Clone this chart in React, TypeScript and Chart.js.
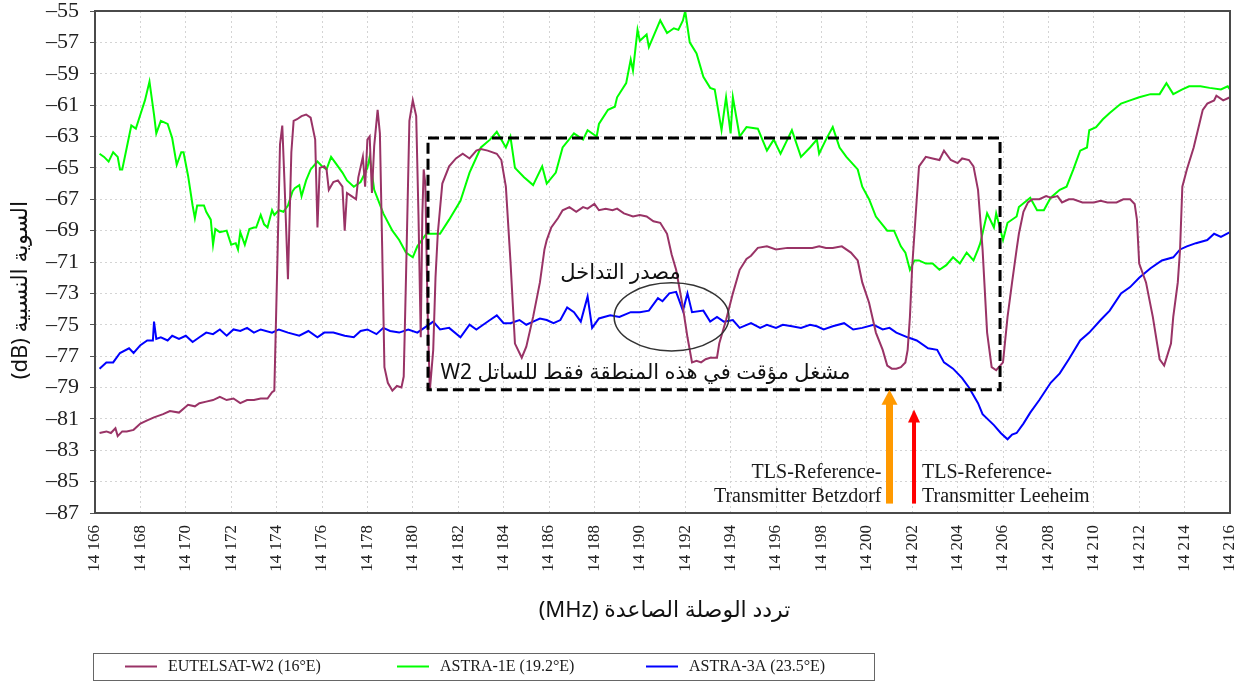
import React, { useEffect, useRef } from "react";
import { Chart, registerables } from "chart.js";

Chart.register(...registerables);

// ---------- DATA ----------
const seriesLabels = ["EUTELSAT-W2 (16°E)", "ASTRA-1E (19.2°E)", "ASTRA-3A (23.5°E)"];
const yTickValues = [-55, -57, -59, -61, -63, -65, -67, -69, -71, -73, -75, -77, -79, -81, -83, -85, -87];

const w2Freq = [
  14166.2, 14166.5, 14166.7, 14166.9, 14167.0, 14167.2, 14167.4, 14167.7, 14168.0, 14168.3,
  14168.6, 14169.0, 14169.3, 14169.7, 14170.1, 14170.4, 14170.6, 14170.9, 14171.2, 14171.5,
  14171.8, 14172.1, 14172.4, 14172.7, 14173.0, 14173.3, 14173.6, 14173.8, 14173.9, 14174.05,
  14174.15, 14174.25, 14174.35, 14174.5, 14174.65, 14174.75, 14174.9, 14175.1, 14175.3, 14175.5,
  14175.6, 14175.7, 14175.8, 14175.9, 14176.1, 14176.2, 14176.3, 14176.5, 14176.7, 14176.9,
  14177.0, 14177.1, 14177.3, 14177.5, 14177.6, 14177.8, 14177.9, 14178.0, 14178.1, 14178.2,
  14178.3, 14178.45, 14178.55, 14178.65, 14178.75, 14178.9, 14179.1, 14179.3, 14179.5, 14179.6,
  14179.7, 14179.85, 14180.0, 14180.15, 14180.25, 14180.35, 14180.42, 14180.48, 14180.55, 14180.65,
  14180.75, 14180.9, 14181.0, 14181.1, 14181.3, 14181.6, 14181.9, 14182.2, 14182.5, 14182.8,
  14183.0, 14183.3, 14183.7, 14183.9, 14184.1, 14184.3, 14184.5, 14184.8, 14185.0, 14185.3,
  14185.6, 14185.8, 14185.9, 14186.1, 14186.4, 14186.6, 14186.9, 14187.2, 14187.5, 14187.7,
  14188.0, 14188.2, 14188.5, 14188.8, 14189.0, 14189.3, 14189.7, 14190.0, 14190.3, 14190.6,
  14190.9, 14191.2, 14191.4, 14191.6, 14191.9, 14192.1, 14192.3, 14192.5, 14192.7, 14192.9,
  14193.1, 14193.4, 14193.5, 14193.8, 14194.1, 14194.4, 14194.7, 14194.9, 14195.2, 14195.6,
  14196.0, 14196.5, 14197.1, 14197.6, 14197.9, 14198.2, 14198.5, 14198.9, 14199.3, 14199.6,
  14199.8, 14200.1, 14200.4, 14200.7, 14200.9, 14201.1, 14201.3, 14201.5, 14201.7, 14201.8,
  14201.9, 14202.0, 14202.2, 14202.3, 14202.6, 14202.9, 14203.2, 14203.4, 14203.7, 14204.0,
  14204.2, 14204.5, 14204.7, 14204.9, 14205.1, 14205.3, 14205.5, 14205.7, 14206.0, 14206.2,
  14206.4, 14206.6, 14206.7, 14206.9, 14207.1, 14207.3, 14207.6, 14207.9, 14208.1, 14208.4,
  14208.6, 14208.9, 14209.1, 14209.5, 14210.0, 14210.3, 14210.6, 14211.0, 14211.3, 14211.6,
  14211.8, 14211.9, 14212.0, 14212.3, 14212.6, 14212.9, 14213.1, 14213.4, 14213.5, 14213.7,
  14213.8, 14213.9, 14214.1, 14214.4, 14214.7, 14214.8, 14215.0, 14215.3, 14215.4, 14215.7,
  14216.0,
];
const w2Level = [
  -81.9, -81.8, -81.9, -81.6, -82.1, -81.8, -81.8, -81.7, -81.3, -81.1,
  -80.9, -80.7, -80.5, -80.6, -80.1, -80.2, -80.0, -79.9, -79.8, -79.6,
  -79.8, -79.7, -80.0, -79.8, -79.8, -79.7, -79.7, -79.3, -79.2, -70.0,
  -63.5, -62.3, -66.0, -72.1, -64.0, -62.0, -61.9, -61.7, -61.6, -61.8,
  -62.5, -63.2, -68.8, -65.0, -64.9, -65.1, -66.4, -65.9, -65.8, -66.2,
  -69.0, -66.6, -66.8, -67.0, -65.6, -64.3, -66.2, -63.2, -63.0, -66.6,
  -63.6, -61.3, -62.8, -70.0, -77.7, -78.7, -79.2, -78.9, -79.0, -78.3,
  -72.0, -62.0, -60.7, -61.7, -68.0, -75.8, -68.0, -65.1, -66.0, -74.0,
  -79.2, -76.6, -72.0, -69.2, -66.0, -64.9, -64.4, -64.1, -64.4, -63.9,
  -63.8, -63.9, -64.1, -64.5, -66.2, -70.9, -76.2, -77.1, -76.4, -74.5,
  -72.3, -70.2, -69.6, -68.8, -68.2, -67.7, -67.5, -67.8, -67.5, -67.6,
  -67.3, -67.7, -67.6, -67.7, -67.6, -67.9, -68.1, -68.0, -68.1, -68.4,
  -68.5, -69.2, -70.5, -71.5, -73.9, -75.8, -77.4, -77.3, -77.4, -77.2,
  -77.1, -77.1, -76.2, -74.7, -73.0, -71.5, -70.8, -70.6, -70.1, -70.0,
  -70.2, -70.1, -70.1, -70.1, -70.0, -70.1, -70.1, -70.0, -70.4, -70.9,
  -72.3, -73.6, -75.5, -76.6, -77.6, -77.8, -77.8, -77.7, -77.4, -76.6,
  -74.5, -71.3, -67.0, -64.9, -64.3, -64.4, -64.5, -63.9, -64.5, -64.7,
  -64.4, -64.5, -64.9, -66.4, -70.2, -75.5, -77.7, -77.9, -77.4, -74.5,
  -72.3, -70.2, -69.2, -67.8, -67.2, -67.0, -67.0, -66.8, -66.9, -66.8,
  -67.2, -67.0, -67.0, -67.2, -67.2, -67.1, -67.2, -67.2, -67.0, -67.0,
  -67.3, -68.3, -71.1, -72.3, -74.5, -77.2, -77.6, -76.2, -74.5, -72.3,
  -70.2, -66.2, -65.1, -63.7, -61.9, -61.3, -60.9, -60.7, -60.4, -60.7,
  -60.5,
];

const astra1eFreq = [
  14166.2, 14166.4, 14166.6, 14166.8, 14167.0, 14167.1, 14167.2, 14167.4, 14167.6, 14167.8,
  14168.0, 14168.2, 14168.4, 14168.6, 14168.7, 14168.9, 14169.2, 14169.4, 14169.6, 14169.8,
  14169.9, 14170.1, 14170.3, 14170.4, 14170.5, 14170.8, 14170.9, 14171.1, 14171.2, 14171.3,
  14171.5, 14171.8, 14172.0, 14172.2, 14172.3, 14172.4, 14172.6, 14172.8, 14173.0, 14173.1,
  14173.3, 14173.45, 14173.6, 14173.8, 14173.9, 14174.1, 14174.3, 14174.5, 14174.7, 14174.8,
  14175.0, 14175.1, 14175.3, 14175.5, 14175.8, 14176.0, 14176.2, 14176.4, 14176.6, 14176.9,
  14177.1, 14177.4, 14177.7, 14178.0, 14178.1, 14178.3, 14178.7, 14179.1, 14179.4, 14179.7,
  14180.0, 14180.2, 14180.6, 14181.2, 14181.6, 14182.1, 14182.5, 14183.0, 14183.4, 14183.7,
  14184.1, 14184.3, 14184.5, 14184.9, 14185.3, 14185.7, 14185.9, 14186.3, 14186.6, 14187.1,
  14187.5, 14187.7, 14188.1, 14188.2, 14188.6, 14188.9, 14189.0, 14189.4, 14189.6, 14189.7,
  14189.9, 14190.0, 14190.3, 14190.4, 14190.9, 14191.2, 14191.5, 14191.7, 14191.9, 14192.0,
  14192.2, 14192.5, 14192.8, 14193.1, 14193.3, 14193.6, 14193.8, 14194.0, 14194.1, 14194.4,
  14194.7, 14195.2, 14195.6, 14195.9, 14196.2, 14196.5, 14196.7, 14197.1, 14197.5, 14197.8,
  14197.9, 14198.2, 14198.5, 14198.8, 14199.1, 14199.6, 14199.8, 14200.1, 14200.4, 14200.9,
  14201.2, 14201.5, 14201.7, 14201.9, 14202.1, 14202.3, 14202.6, 14202.9, 14203.2, 14203.5,
  14203.8, 14204.1, 14204.4, 14204.7, 14204.9, 14205.0, 14205.3, 14205.6, 14205.7, 14206.0,
  14206.2, 14206.6, 14206.7, 14207.2, 14207.5, 14207.8, 14208.1, 14208.5, 14208.8, 14209.1,
  14209.4, 14209.7, 14209.8, 14210.1, 14210.4, 14210.7, 14211.2, 14211.6, 14212.0, 14212.5,
  14212.9, 14213.2, 14213.5, 14213.9, 14214.2, 14214.7, 14215.1, 14215.6, 14215.9, 14216.0,
];
const astra1eLevel = [
  -64.1, -64.3, -64.6, -64.0, -64.3, -65.1, -65.1, -63.7, -62.3, -62.5,
  -61.6, -60.7, -59.5, -61.6, -62.8, -62.0, -62.2, -63.1, -64.8, -64.0,
  -64.0, -65.5, -67.4, -68.2, -67.4, -67.4, -67.8, -68.3, -69.9, -68.9,
  -69.1, -69.0, -69.9, -69.8, -70.2, -69.1, -69.9, -68.9, -68.8, -68.8,
  -68.0, -68.6, -68.8, -67.7, -68.0, -67.7, -67.8, -67.4, -66.5, -66.3,
  -66.1, -66.8, -65.8, -65.1, -64.6, -64.9, -65.1, -64.3, -64.7, -65.3,
  -65.8, -66.2, -65.9, -65.0, -64.3, -66.4, -67.9, -69.0, -69.6, -70.4,
  -70.7, -70.0, -69.2, -69.2, -68.3, -67.1, -65.3, -63.7, -63.2, -62.7,
  -63.7, -63.0, -65.0, -65.6, -66.1, -64.9, -66.0, -65.3, -63.7, -62.8,
  -63.2, -62.6, -63.0, -62.2, -61.3, -61.1, -60.5, -59.6, -58.1, -58.8,
  -56.2, -56.9, -56.5, -57.3, -55.6, -56.4, -56.1, -56.2, -55.6, -55.0,
  -57.0, -57.7, -59.2, -59.9, -60.0, -62.6, -60.5, -62.8, -60.5, -63.0,
  -62.4, -62.5, -63.9, -63.2, -64.1, -63.2, -62.6, -64.3, -63.7, -63.2,
  -64.1, -63.2, -62.4, -63.7, -64.3, -65.1, -66.2, -67.0, -68.1, -69.0,
  -69.0, -70.0, -70.4, -71.5, -70.9, -70.9, -71.1, -71.1, -71.5, -71.2,
  -70.7, -71.1, -70.4, -70.9, -70.2, -69.8, -67.9, -68.8, -67.9, -69.6,
  -68.5, -68.1, -67.5, -66.9, -67.7, -67.7, -66.9, -66.4, -66.2, -65.1,
  -63.9, -63.7, -62.6, -62.4, -61.9, -61.5, -60.9, -60.7, -60.5, -60.3,
  -60.3, -59.6, -60.3, -60.0, -59.8, -59.8, -59.9, -60.0, -59.8, -60.0,
];

const astra3aFreq = [
  14166.2, 14166.5, 14166.8, 14167.1, 14167.5, 14167.7, 14168.0, 14168.3, 14168.55, 14168.6,
  14168.7, 14168.9, 14169.2, 14169.4, 14169.7, 14170.0, 14170.3, 14170.6, 14170.9, 14171.2,
  14171.5, 14171.8, 14172.1, 14172.4, 14172.7, 14173.0, 14173.3, 14173.8, 14174.1, 14174.5,
  14175.0, 14175.4, 14175.8, 14176.1, 14176.5, 14177.0, 14177.4, 14177.7, 14178.0, 14178.4,
  14178.7, 14179.0, 14179.4, 14179.8, 14180.2, 14180.6, 14180.9, 14181.2, 14181.6, 14182.1,
  14182.5, 14182.8, 14183.1, 14183.4, 14183.7, 14184.0, 14184.3, 14184.7, 14185.0, 14185.3,
  14185.6, 14185.9, 14186.2, 14186.5, 14186.8, 14187.1, 14187.4, 14187.7, 14187.9, 14188.2,
  14188.7, 14189.1, 14189.6, 14190.0, 14190.4, 14190.8, 14191.0, 14191.3, 14191.6, 14191.9,
  14192.1, 14192.3, 14192.8, 14193.1, 14193.4, 14193.7, 14194.1, 14194.4, 14194.9, 14195.3,
  14195.6, 14196.0, 14196.3, 14196.7, 14197.1, 14197.5, 14197.8, 14198.1, 14198.5, 14199.0,
  14199.4, 14199.8, 14200.3, 14200.7, 14201.0, 14201.3, 14201.8, 14202.2, 14202.7, 14203.1,
  14203.4, 14203.8, 14204.2, 14204.5, 14204.9, 14205.1, 14205.6, 14205.9, 14206.2, 14206.4,
  14206.6, 14206.9, 14207.2, 14207.6, 14208.1, 14208.5, 14208.9, 14209.4, 14209.8, 14210.3,
  14210.7, 14211.2, 14211.6, 14212.0, 14212.5, 14213.0, 14213.5, 14213.8, 14214.1, 14214.5,
  14215.0, 14215.3, 14215.6, 14216.0,
];
const astra3aLevel = [
  -77.8, -77.4, -77.4, -76.8, -76.5, -76.8, -76.3, -76.0, -76.0, -74.8,
  -75.9, -75.8, -76.0, -75.7, -75.9, -75.7, -76.1, -75.8, -75.5, -75.6,
  -75.3, -75.7, -75.3, -75.4, -75.2, -75.5, -75.3, -75.5, -75.3, -75.5,
  -75.7, -75.4, -75.8, -75.5, -75.5, -75.7, -75.8, -75.4, -75.3, -75.6,
  -75.2, -75.4, -75.5, -75.3, -75.5, -75.1, -74.8, -75.3, -75.2, -75.8,
  -75.0, -75.3, -75.0, -74.7, -74.4, -74.9, -74.9, -74.7, -75.0, -74.8,
  -74.6, -74.7, -74.9, -74.7, -73.9, -74.2, -74.8, -73.2, -75.2, -74.6,
  -74.4, -74.5, -74.2, -74.2, -74.1, -73.3, -73.5, -73.0, -72.9, -74.1,
  -73.0, -74.2, -74.1, -74.8, -74.5, -74.8, -74.7, -75.2, -74.9, -75.2,
  -75.0, -75.2, -75.0, -75.1, -75.2, -75.0, -75.1, -75.3, -75.1, -74.9,
  -75.3, -75.2, -75.0, -75.3, -75.2, -75.5, -75.8, -76.0, -76.5, -76.6,
  -77.4, -77.8, -78.4, -79.0, -80.0, -80.7, -81.4, -81.9, -82.3, -82.0,
  -81.9, -81.3, -80.6, -79.8, -78.7, -78.1, -77.2, -76.0, -75.5, -74.7,
  -74.1, -73.0, -72.6, -72.0, -71.4, -70.9, -70.7, -70.2, -70.0, -69.8,
  -69.6, -69.2, -69.4, -69.1,
];

// ---------- ANNOTATIONS (data coordinates) ----------
const boxFreq = [14180.67, 14205.87];
const boxLevel = [-63.1, -79.15];
const ellipseCenter = [14191.4, -74.5];
const ellipseRadius = [2.53, 2.17];
const interferenceLabel = "مصدر التداخل";
const interferencePos = [14189.15, -71.7];
const operatorLabel = "مشغل مؤقت في هذه المنطقة فقط للساتل W2";
const operatorPos = [14190.25, -78.1];
const betzdorfFreq = 14201.0;
const leeheimFreq = 14202.08;
const betzdorfTipLevel = -79.15;
const leeheimTipLevel = -80.4;
const arrowBaseLevel = -86.4;
const betzdorfLines = ["TLS-Reference-", "Transmitter Betzdorf"];
const leeheimLines = ["TLS-Reference-", "Transmitter Leeheim"];
const refTextLevels = [-84.75, -86.3];
const yTitle = "السوية النسبية (dB)";
const xTitle = "تردد الوصلة الصاعدة (MHz)";

const COLORS = ["#993366", "#00ff00", "#0000ff"];
const SERIF = "'Liberation Serif', 'Times New Roman', serif";
const ARABIC = "'Noto Sans', 'DejaVu Sans', sans-serif";

function pairs(xs: number[], ys: number[]) {
  return xs.map((x, i) => ({ x, y: ys[i] }));
}

const overlayPlugin = {
  id: "overlay",
  afterDatasetsDraw(chart: any) {
    const { ctx, scales } = chart;
    const xs = scales.x;
    const ys = scales.y;
    const px = (v: number) => xs.getPixelForValue(v);
    const py = (v: number) => ys.getPixelForValue(v);
    ctx.save();
    // dashed box
    ctx.strokeStyle = "#000";
    ctx.lineWidth = 3;
    ctx.setLineDash([11, 5]);
    ctx.strokeRect(px(boxFreq[0]), py(boxLevel[0]), px(boxFreq[1]) - px(boxFreq[0]), py(boxLevel[1]) - py(boxLevel[0]));
    ctx.setLineDash([]);
    // ellipse
    const cx = px(ellipseCenter[0]);
    const cy = py(ellipseCenter[1]);
    const rx = px(ellipseCenter[0] + ellipseRadius[0]) - cx;
    const ry = py(ellipseCenter[1] - ellipseRadius[1]) - cy;
    ctx.beginPath();
    ctx.ellipse(cx, cy, rx, ry, 0, 0, Math.PI * 2);
    ctx.strokeStyle = "#333";
    ctx.lineWidth = 1.5;
    ctx.stroke();
    // arabic annotation texts
    ctx.fillStyle = "#111";
    ctx.direction = "rtl";
    ctx.textAlign = "center";
    ctx.textBaseline = "middle";
    ctx.font = `21px ${ARABIC}`;
    ctx.fillText(interferenceLabel, px(interferencePos[0]), py(interferencePos[1]));
    ctx.fillText(operatorLabel, px(operatorPos[0]), py(operatorPos[1]));
    ctx.direction = "ltr";
    // arrows
    const drawArrow = (f: number, tip: number, color: string, shaft: number, headW: number, headL: number) => {
      const x = px(f);
      const yTip = py(tip);
      const yBase = py(arrowBaseLevel);
      ctx.fillStyle = color;
      ctx.fillRect(x - shaft / 2, yTip + headL - 1, shaft, yBase - yTip - headL + 1);
      ctx.beginPath();
      ctx.moveTo(x, yTip);
      ctx.lineTo(x + headW / 2, yTip + headL);
      ctx.lineTo(x - headW / 2, yTip + headL);
      ctx.closePath();
      ctx.fill();
    };
    drawArrow(betzdorfFreq, betzdorfTipLevel, "#ff9900", 7, 16, 15);
    drawArrow(leeheimFreq, leeheimTipLevel, "#ff0000", 4, 12, 13);
    // reference transmitter texts
    ctx.fillStyle = "#1a1a1a";
    ctx.font = `20px ${SERIF}`;
    ctx.textBaseline = "alphabetic";
    ctx.textAlign = "right";
    betzdorfLines.forEach((t, i) => ctx.fillText(t, px(betzdorfFreq) - 8, py(refTextLevels[i])));
    ctx.textAlign = "left";
    leeheimLines.forEach((t, i) => ctx.fillText(t, px(leeheimFreq) + 8, py(refTextLevels[i])));
    ctx.restore();
  },
  afterDraw(chart: any) {
    const { ctx, chartArea } = chart;
    ctx.save();
    // frame
    ctx.strokeStyle = "#4a4a4a";
    ctx.lineWidth = 2;
    ctx.strokeRect(chartArea.left, chartArea.top, chartArea.right - chartArea.left, chartArea.bottom - chartArea.top);
    // axis titles
    ctx.fillStyle = "#111";
    ctx.font = `22px ${ARABIC}`;
    ctx.direction = "rtl";
    ctx.textAlign = "center";
    ctx.textBaseline = "middle";
    ctx.fillText(xTitle, (chartArea.left + chartArea.right) / 2 + 2, 611);
    ctx.save();
    ctx.translate(21, 290);
    ctx.rotate(-Math.PI / 2);
    ctx.fillText(yTitle, 0, 0);
    ctx.restore();
    ctx.direction = "ltr";
    // legend
    ctx.strokeStyle = "#666";
    ctx.lineWidth = 1;
    ctx.strokeRect(93.5, 653.5, 781, 27);
    const starts = [125, 397, 646];
    ctx.font = `16px ${SERIF}`;
    ctx.textAlign = "left";
    ctx.textBaseline = "middle";
    seriesLabels.forEach((lab, i) => {
      ctx.strokeStyle = COLORS[i];
      ctx.lineWidth = 2;
      ctx.beginPath();
      ctx.moveTo(starts[i], 666.5);
      ctx.lineTo(starts[i] + 32, 666.5);
      ctx.stroke();
      ctx.fillStyle = "#1a1a1a";
      ctx.fillText(lab, starts[i] + 43, 667);
    });
    ctx.restore();
  },
};

export default function App() {
  const ref = useRef<HTMLCanvasElement | null>(null);
  useEffect(() => {
    if (!ref.current) return;
    const chart = new Chart(ref.current, {
      type: "line",
      data: {
        datasets: [
          { label: seriesLabels[0], data: pairs(w2Freq, w2Level), borderColor: COLORS[0], borderWidth: 2, pointRadius: 0, tension: 0 },
          { label: seriesLabels[1], data: pairs(astra1eFreq, astra1eLevel), borderColor: COLORS[1], borderWidth: 2, pointRadius: 0, tension: 0 },
          { label: seriesLabels[2], data: pairs(astra3aFreq, astra3aLevel), borderColor: COLORS[2], borderWidth: 2, pointRadius: 0, tension: 0 },
        ],
      },
      options: {
        animation: false,
        responsive: false,
        devicePixelRatio: 1,
        parsing: false,
        normalized: true,
        layout: { padding: { top: 11, right: 18, left: 0, bottom: 0 } },
        plugins: { legend: { display: false }, tooltip: { enabled: false } },
        scales: {
          x: {
            type: "linear",
            min: 14166,
            max: 14216,
            afterFit: (s: any) => { s.height = 168; s.paddingLeft = 0; s.paddingRight = 0; },
            ticks: {
              stepSize: 2,
              autoSkip: false,
              minRotation: 90,
              maxRotation: 90,
              padding: 12,
              color: "#222",
              font: { family: SERIF, size: 17 },
              callback: (v: any) => "14 " + String(v).slice(2),
            },
            grid: { color: "#d4d4d4", lineWidth: 1, drawTicks: false },
            border: { display: false, dash: [2, 3] },
          },
          y: {
            type: "linear",
            min: -87,
            max: -55,
            afterFit: (s: any) => { s.width = 95; s.paddingTop = 0; s.paddingBottom = 0; },
            afterBuildTicks: (s: any) => { s.ticks = yTickValues.slice().reverse().map((v) => ({ value: v })); },
            ticks: {
              autoSkip: false,
              padding: 11,
              color: "#222",
              font: { family: SERIF, size: 22 },
              callback: (v: any) => String(v).replace("-", "\u2013"),
            },
            grid: { color: "#d4d4d4", lineWidth: 1, drawTicks: true, tickLength: 5, tickColor: "#555" },
            border: { display: false, dash: [2, 3] },
          },
        },
      },
      plugins: [overlayPlugin],
    });
    return () => chart.destroy();
  }, []);
  return (
    <div style={{ position: "fixed", left: 0, top: 0, width: 1248, height: 681, background: "#fff" }}>
      <canvas ref={ref} width={1248} height={681} style={{ display: "block", width: 1248, height: 681 }} />
    </div>
  );
}
